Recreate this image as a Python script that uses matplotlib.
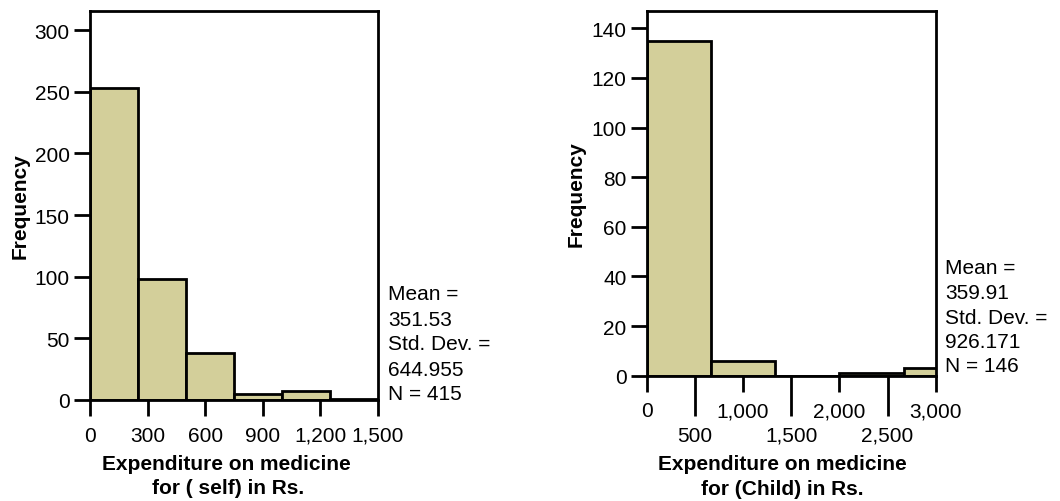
import numpy as np
import matplotlib
matplotlib.use("Agg")
import matplotlib.pyplot as plt
from matplotlib.ticker import FuncFormatter

# 데이터
self_edges = [0, 250, 500, 750, 1000, 1250, 1500]
self_counts = [253, 98, 38, 5, 7, 1]
self_stats = ["Mean =", "351.53", "Std. Dev. =", "644.955", "N = 415"]

child_edges = [0, 666.67, 1333.33, 2000, 2666.67, 3333.33]
child_counts = [135, 6, 0, 1, 3]
child_stats = ["Mean =", "359.91", "Std. Dev. =", "926.171", "N = 146"]

self_xticks = [0, 300, 600, 900, 1200, 1500]
self_yticks = [0, 50, 100, 150, 200, 250, 300]
child_xmajor = [0, 1000, 2000, 3000]
child_xminor = [500, 1500, 2500]
child_yticks = [0, 20, 40, 60, 80, 100, 120, 140]

plt.rcParams["font.family"] = ["Liberation Sans", "DejaVu Sans"]
plt.rcParams["font.size"] = 15

FILL = "#d3cf9a"
LW = 2.0

fig = plt.figure(figsize=(10.6, 5.02), dpi=100)
W, H = 1060, 502


def px_axes(x0, x1, y_top, y_bottom):
    return fig.add_axes([x0 / W, 1 - y_bottom / H, (x1 - x0) / W, (y_bottom - y_top) / H])


def style(ax):
    for s in ax.spines.values():
        s.set_linewidth(LW)
    ax.tick_params(axis="both", which="both", width=LW, direction="out")
    ax.tick_params(axis="y", length=11.5, pad=3)


comma = FuncFormatter(lambda v, p: f"{int(v):,}")

# 왼쪽: self
ax1 = px_axes(90, 378, 12, 401)
ax1.bar(self_edges[:-1], self_counts, width=np.diff(self_edges), align="edge",
        color=FILL, edgecolor="black", linewidth=LW)
ax1.set_xlim(0, 1500)
ax1.set_ylim(0, 315.5)
ax1.set_xticks(self_xticks)
ax1.set_yticks(self_yticks)
ax1.xaxis.set_major_formatter(comma)
style(ax1)
ax1.tick_params(axis="x", length=11.5, pad=7)
ax1.set_ylabel("Frequency", fontweight="bold", labelpad=4)
fig.text(226 / W, 1 - 465 / H, "Expenditure on medicine", ha="center", va="center", fontweight="bold")
fig.text(228 / W, 1 - 489 / H, "for ( self) in Rs.", ha="center", va="center", fontweight="bold")
for i, s in enumerate(self_stats):
    fig.text(388 / W, 1 - (295 + 25 * i) / H, s, ha="left", va="center")

# 오른쪽: child
ax2 = px_axes(646.7, 935.7, 11.7, 376.7)
ax2.bar(child_edges[:-1], child_counts, width=np.diff(child_edges), align="edge",
        color=FILL, edgecolor="black", linewidth=LW)
ax2.set_xlim(0, 3000)
ax2.set_ylim(0, 147.1)
ax2.set_xticks(child_xmajor)
ax2.set_xticks(child_xminor, minor=True)
ax2.xaxis.set_major_formatter(comma)
ax2.xaxis.set_minor_formatter(comma)
ax2.set_yticks(child_yticks)
style(ax2)
ax2.tick_params(axis="x", which="major", length=11.5, pad=7)
ax2.tick_params(axis="x", which="minor", length=29, pad=7)
ax2.set_ylabel("Frequency", fontweight="bold", labelpad=4)
fig.text(782 / W, 1 - 465 / H, "Expenditure on medicine", ha="center", va="center", fontweight="bold")
fig.text(782 / W, 1 - 490 / H, "for (Child) in Rs.", ha="center", va="center", fontweight="bold")
for i, s in enumerate(child_stats):
    fig.text(945 / W, 1 - (269 + 24.5 * i) / H, s, ha="left", va="center")

fig.savefig("out.png", dpi=100)
